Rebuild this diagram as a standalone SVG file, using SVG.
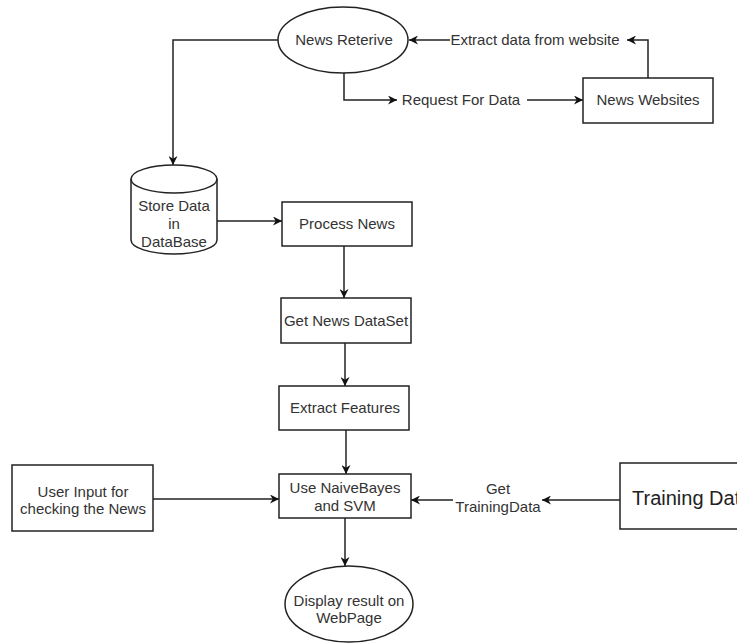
<svg xmlns="http://www.w3.org/2000/svg" width="737" height="643" viewBox="0 0 737 643">
<defs>
<style>
.s{fill:#fff;stroke:#222;stroke-width:1.5}
.c{fill:none;stroke:#222;stroke-width:1.5}
.t{font-family:"Liberation Sans",Arial,sans-serif;font-size:15px;fill:#333;text-anchor:middle}
.big{font-family:"Liberation Sans",Arial,sans-serif;font-size:20px;fill:#222}
</style>
<marker id="a" viewBox="0 0 10 10" refX="10" refY="5" markerWidth="9" markerHeight="9" markerUnits="userSpaceOnUse" orient="auto">
<path d="M0,0 L10,5 L0,10 L3,5 Z" fill="#111"/>
</marker>
</defs>
<rect width="737" height="643" fill="#fff"/>
<g id="connectors">
<path class="c" d="M278,40 H173 V165" marker-end="url(#a)"/>
<path class="c" d="M344,73 V100 H397" marker-end="url(#a)"/>
<path class="c" d="M527,100 H583" marker-end="url(#a)"/>
<path class="c" d="M648,78 V40 H627" marker-end="url(#a)"/>
<path class="c" d="M450,40 H409" marker-end="url(#a)"/>
<path class="c" d="M217,221 H282" marker-end="url(#a)"/>
<path class="c" d="M344,246 V298" marker-end="url(#a)"/>
<path class="c" d="M345,343 V386" marker-end="url(#a)"/>
<path class="c" d="M346,430 V474" marker-end="url(#a)"/>
<path class="c" d="M153,499 H279" marker-end="url(#a)"/>
<path class="c" d="M620,500 H542" marker-end="url(#a)"/>
<path class="c" d="M453,500 H411" marker-end="url(#a)"/>
<path class="c" d="M345,518 V566" marker-end="url(#a)"/>
<text class="t" x="461" y="105">Request For Data</text>
<text class="t" x="535" y="45">Extract data from website</text>
<text class="t" x="498" y="494">Get</text>
<text class="t" x="498" y="512">TrainingData</text>
</g>
<g id="news-reterive">
<ellipse class="s" cx="343" cy="40" rx="65" ry="33"/>
<text class="t" x="344" y="45">News Reterive</text>
</g>
<g id="news-websites">
<rect class="s" x="583" y="78" width="130" height="45"/>
<text class="t" x="648" y="105">News Websites</text>
</g>
<g id="store-data">
<path class="s" d="M131,179 A43,14 0 0 1 217,179 V240 A43,14 0 0 1 131,240 Z"/>
<path class="c" d="M131,179 A43,14 0 0 0 217,179"/>
<text class="t" x="174" y="211">Store Data</text>
<text class="t" x="174" y="229">in</text>
<text class="t" x="174" y="247">DataBase</text>
</g>
<g id="process-news">
<rect class="s" x="282" y="202" width="130" height="44"/>
<text class="t" x="347" y="229">Process News</text>
</g>
<g id="get-news-dataset">
<rect class="s" x="281" y="298" width="130" height="45"/>
<text class="t" x="346" y="326">Get News DataSet</text>
</g>
<g id="extract-features">
<rect class="s" x="279" y="386" width="130" height="44"/>
<text class="t" x="345" y="413">Extract Features</text>
</g>
<g id="user-input">
<rect class="s" x="12" y="465" width="141" height="66"/>
<text class="t" x="83" y="497">User Input for</text>
<text class="t" x="83" y="514">checking the News</text>
</g>
<g id="use-naivebayes">
<rect class="s" x="279" y="474" width="132" height="44"/>
<text class="t" x="345" y="493">Use NaiveBayes</text>
<text class="t" x="345" y="511">and SVM</text>
</g>
<g id="training-data">
<rect class="s" x="620" y="463" width="140" height="66"/>
<text class="big" x="632" y="505">Training Data</text>
</g>
<g id="display-result">
<ellipse class="s" cx="349" cy="604" rx="64" ry="38"/>
<text class="t" x="349" y="606">Display result on</text>
<text class="t" x="349" y="623">WebPage</text>
</g>
</svg>
